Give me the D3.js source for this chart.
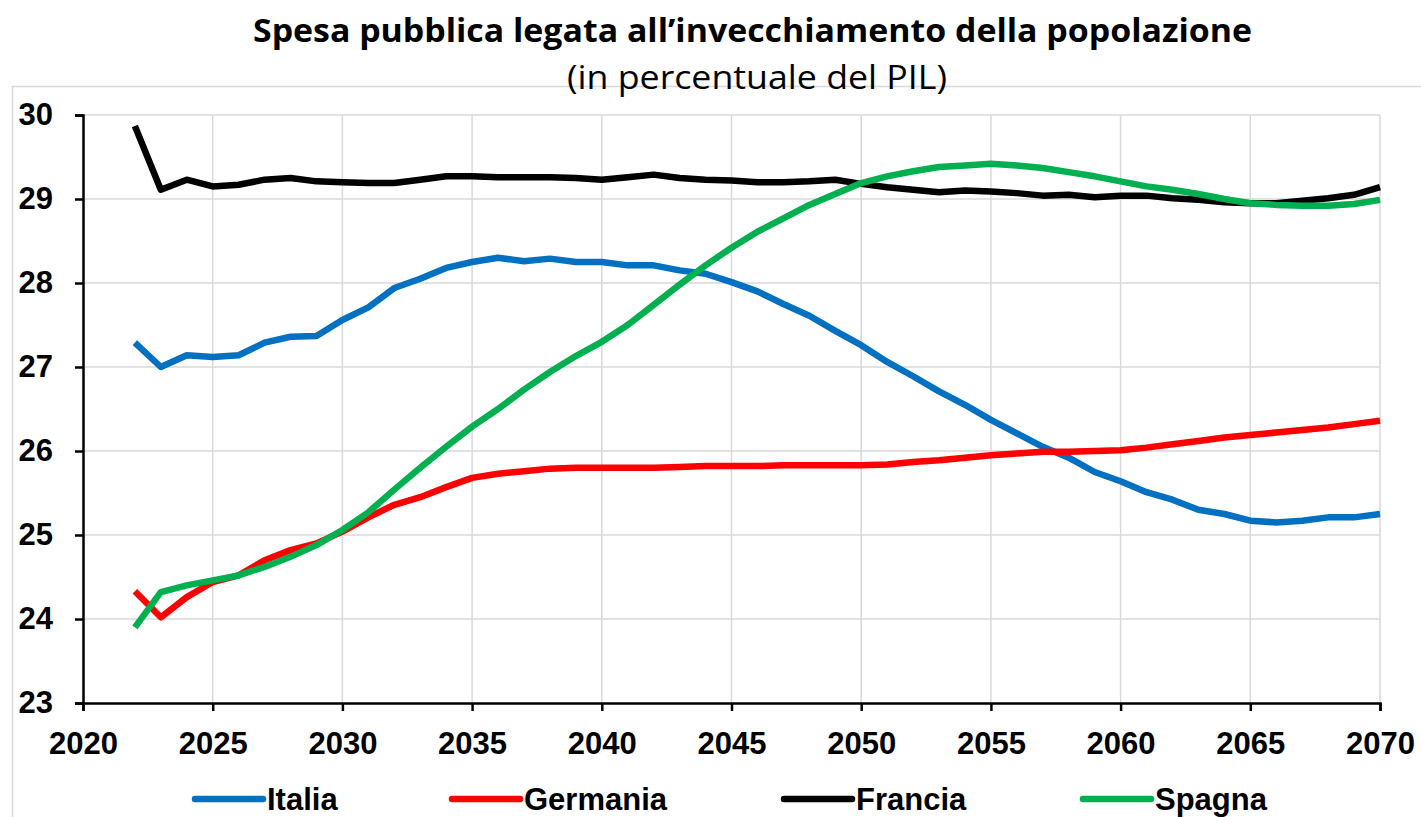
<!DOCTYPE html>
<html>
<head>
<meta charset="utf-8">
<script src="https://cdn.jsdelivr.net/npm/d3@7"></script>
<style>
  body { margin: 0; background: #fff; }
  .axis text { font-family: "Liberation Sans", Arial, sans-serif; font-weight: bold; font-size: 31px; fill: #000; }
  .axis path, .axis line { stroke: #000; stroke-width: 2.5; }
  .grid line { stroke: #d9d9d9; stroke-width: 1.5; }
  .legend text { font-family: "Liberation Sans", Arial, sans-serif; font-weight: bold; font-size: 31px; }
</style>
</head>
<body>
<div id="chart"></div>
<script>
// Years and series (percent of GDP)
var years = d3.range(2022, 2071);

var italia = [27.29, 27.00, 27.14, 27.12, 27.14, 27.29, 27.36, 27.37, 27.56, 27.71,
  27.94, 28.05, 28.18, 28.25, 28.30, 28.26, 28.29, 28.25, 28.25, 28.21,
  28.21, 28.15, 28.11, 28.01, 27.90, 27.75, 27.61, 27.43, 27.26, 27.06,
  26.89, 26.71, 26.55, 26.37, 26.21, 26.05, 25.92, 25.75, 25.64, 25.51,
  25.42, 25.30, 25.25, 25.17, 25.15, 25.17, 25.21, 25.21, 25.25];

var germania = [24.33, 24.02, 24.26, 24.44, 24.52, 24.70, 24.82, 24.90, 25.04, 25.21,
  25.36, 25.45, 25.57, 25.68, 25.73, 25.76, 25.79, 25.80, 25.80, 25.80,
  25.80, 25.81, 25.82, 25.82, 25.82, 25.83, 25.83, 25.83, 25.83, 25.84,
  25.87, 25.89, 25.92, 25.95, 25.97, 25.99, 25.99, 26.00, 26.01, 26.04,
  26.08, 26.12, 26.16, 26.19, 26.22, 26.25, 26.28, 26.32, 26.36];

var francia = [29.87, 29.11, 29.23, 29.15, 29.17, 29.23, 29.25, 29.21, 29.20, 29.19,
  29.19, 29.23, 29.27, 29.27, 29.26, 29.26, 29.26, 29.25, 29.23, 29.26,
  29.29, 29.25, 29.23, 29.22, 29.20, 29.20, 29.21, 29.23, 29.18, 29.14,
  29.11, 29.08, 29.10, 29.09, 29.07, 29.04, 29.05, 29.02, 29.04, 29.04,
  29.01, 28.99, 28.96, 28.95, 28.95, 28.98, 29.01, 29.05, 29.14];

var spagna = [23.90, 24.32, 24.40, 24.46, 24.52, 24.62, 24.74, 24.88, 25.06, 25.27,
  25.54, 25.80, 26.05, 26.29, 26.50, 26.73, 26.94, 27.13, 27.30, 27.50,
  27.74, 27.98, 28.21, 28.42, 28.61, 28.77, 28.93, 29.06, 29.19, 29.27,
  29.33, 29.38, 29.40, 29.42, 29.40, 29.37, 29.32, 29.27, 29.21, 29.15,
  29.11, 29.06, 29.00, 28.95, 28.93, 28.92, 28.92, 28.94, 28.99];

var seriesNames = ["Italia", "Germania", "Francia", "Spagna"];
var seriesValues = [italia, germania, francia, spagna];
var colors = ["#0070C0", "#FF0000", "#000000", "#00B050"];

var xTicks = d3.range(2020, 2071, 5);
var yTicks = d3.range(23, 31, 1);

var W = 1421, H = 817;
var margin = {top: 115, left: 83, right: 41, bottom: 114};
var width = W - margin.left - margin.right,
    height = H - margin.top - margin.bottom;

var svg = d3.select("#chart").append("svg")
    .attr("width", W)
    .attr("height", H);

// outer frame
svg.append("rect")
    .attr("x", 12.5).attr("y", 86.5)
    .attr("width", W + 10).attr("height", H)
    .attr("fill", "none").attr("stroke", "#d9d9d9").attr("stroke-width", 1.5);

// titles
svg.append("text")
    .attr("x", 253).attr("y", 42)
    .attr("textLength", 999).attr("lengthAdjust", "spacingAndGlyphs")
    .style("font-family", "'Open Sans', Lato, sans-serif")
    .style("font-weight", "bold").style("font-size", "33px")
    .text("Spesa pubblica legata all\u2019invecchiamento della popolazione");
svg.append("text")
    .attr("x", 567).attr("y", 89)
    .attr("textLength", 380).attr("lengthAdjust", "spacingAndGlyphs")
    .style("font-family", "'Open Sans', Lato, sans-serif")
    .style("font-size", "32px")
    .text("(in percentuale del PIL)");

var g = svg.append("g")
    .attr("transform", "translate(" + margin.left + "," + margin.top + ")");

var xScale = d3.scaleLinear().domain([2020, 2070]).range([0, width]);
var yScale = d3.scaleLinear().domain([23, 30]).range([height, 0]);

// gridlines
g.append("g").attr("class", "grid")
  .selectAll("line.v").data(xTicks.slice(1)).enter().append("line")
    .attr("x1", d => xScale(d)).attr("x2", d => xScale(d))
    .attr("y1", 0).attr("y2", height);
g.append("g").attr("class", "grid")
  .selectAll("line.h").data(yTicks.slice(1)).enter().append("line")
    .attr("x1", 0).attr("x2", width)
    .attr("y1", d => yScale(d)).attr("y2", d => yScale(d));

// axes
var xAxis = d3.axisBottom(xScale).tickValues(xTicks).tickFormat(d3.format("d"))
    .tickSizeInner(8).tickSizeOuter(8).tickPadding(14);
var yAxis = d3.axisLeft(yScale).tickValues(yTicks).tickFormat(d3.format("d"))
    .tickSizeInner(8).tickSizeOuter(8).tickPadding(22);

g.append("g").attr("class", "x axis")
    .attr("transform", "translate(0," + height + ")")
    .call(xAxis)
    .selectAll("text").attr("dy", "0.92em");
g.append("g").attr("class", "y axis")
    .call(yAxis);

// lines
var line = d3.line()
    .x((d, i) => xScale(years[i]))
    .y(d => yScale(d));

g.selectAll(".series")
  .data(seriesValues)
  .enter().append("path")
    .attr("class", "series")
    .attr("d", line)
    .attr("fill", "none")
    .attr("stroke", (d, i) => colors[i])
    .attr("stroke-width", 6.5)
    .attr("stroke-linejoin", "round");

// legend
var legendX = [195, 452, 784, 1083];
var legend = svg.append("g").attr("class", "legend")
  .selectAll("g").data(seriesNames).enter().append("g")
    .attr("transform", (d, i) => "translate(" + legendX[i] + ",799)");
legend.append("line")
    .attr("x1", 0).attr("x2", 68).attr("y1", 0).attr("y2", 0)
    .attr("stroke", (d, i) => colors[i]).attr("stroke-width", 6.5)
    .attr("stroke-linecap", "round");
legend.append("text")
    .attr("x", 72).attr("y", 11)
    .text(d => d);
</script>
</body>
</html>
